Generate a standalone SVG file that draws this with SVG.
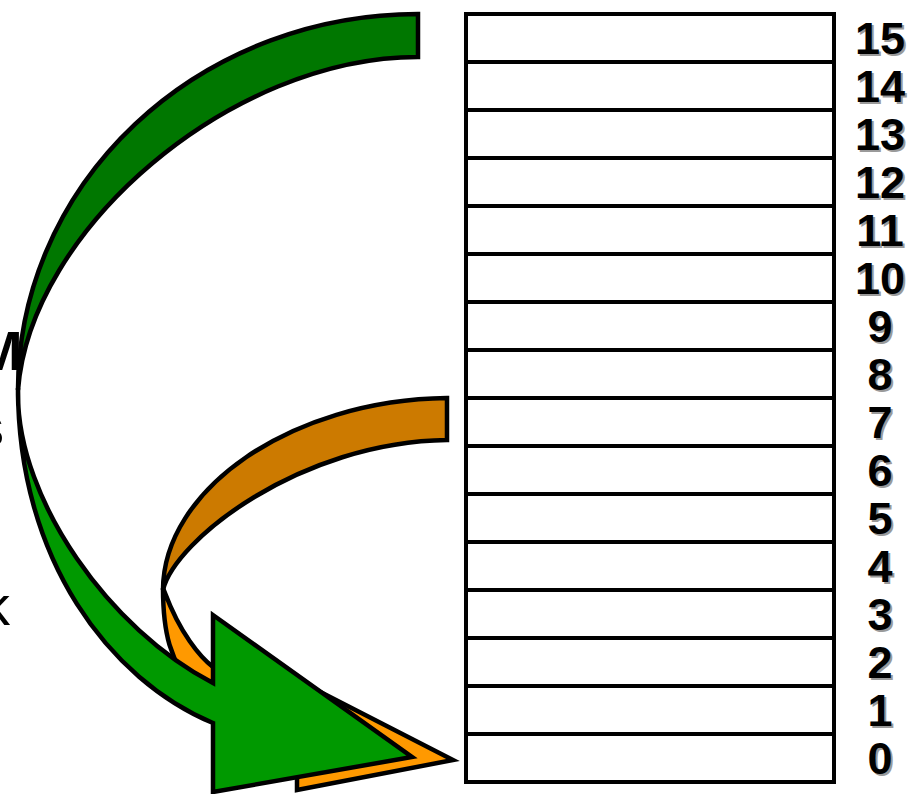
<svg xmlns="http://www.w3.org/2000/svg" width="910" height="794" viewBox="0 0 910 794">
<style>
.cell{fill:#fff;stroke:#000;stroke-width:4}
.lbl{font-family:"Liberation Sans",Arial,sans-serif;font-weight:bold;font-size:45px;text-anchor:middle}
.sh{fill:#9a9a9a}
.tx{fill:#000}
.cut{font-family:"Liberation Sans",Arial,sans-serif;font-size:56px;fill:#000}
.ol{stroke:#000;stroke-width:4.5;stroke-linejoin:miter}
</style>
<rect width="910" height="794" fill="#fff"/>
<g id="cut-text">
<text class="cut" x="-24" y="370" font-weight="bold">M</text>
<text class="cut" x="-24" y="446">s</text>
<text class="cut" x="-18" y="625">k</text>
</g>
<g id="stack">
<rect class="cell" x="466" y="14" width="368" height="48"/>
<rect class="cell" x="466" y="62" width="368" height="48"/>
<rect class="cell" x="466" y="110" width="368" height="48"/>
<rect class="cell" x="466" y="158" width="368" height="48"/>
<rect class="cell" x="466" y="206" width="368" height="48"/>
<rect class="cell" x="466" y="254" width="368" height="48"/>
<rect class="cell" x="466" y="302" width="368" height="48"/>
<rect class="cell" x="466" y="350" width="368" height="48"/>
<rect class="cell" x="466" y="398" width="368" height="48"/>
<rect class="cell" x="466" y="446" width="368" height="48"/>
<rect class="cell" x="466" y="494" width="368" height="48"/>
<rect class="cell" x="466" y="542" width="368" height="48"/>
<rect class="cell" x="466" y="590" width="368" height="48"/>
<rect class="cell" x="466" y="638" width="368" height="48"/>
<rect class="cell" x="466" y="686" width="368" height="48"/>
<rect class="cell" x="466" y="734" width="368" height="48"/>
</g>
<g id="labels" class="lbl">
<g class="sh" transform="translate(2,2)">
<text x="880" y="54">15</text><text x="880" y="102">14</text><text x="880" y="150">13</text><text x="880" y="198">12</text>
<text x="880" y="246">11</text><text x="880" y="294">10</text><text x="880" y="342">9</text><text x="880" y="390">8</text>
<text x="880" y="438">7</text><text x="880" y="486">6</text><text x="880" y="534">5</text><text x="880" y="582">4</text>
<text x="880" y="630">3</text><text x="880" y="678">2</text><text x="880" y="726">1</text><text x="880" y="774">0</text>
</g>
<g class="tx">
<text x="880" y="54">15</text><text x="880" y="102">14</text><text x="880" y="150">13</text><text x="880" y="198">12</text>
<text x="880" y="246">11</text><text x="880" y="294">10</text><text x="880" y="342">9</text><text x="880" y="390">8</text>
<text x="880" y="438">7</text><text x="880" y="486">6</text><text x="880" y="534">5</text><text x="880" y="582">4</text>
<text x="880" y="630">3</text><text x="880" y="678">2</text><text x="880" y="726">1</text><text x="880" y="774">0</text>
</g>
</g>
<g id="connectors">
<g id="orange-arrow">
<path class="ol" fill="#CC7A00" d="M447,398 C290,400 163,490 163,590 C175,540 300,442 447,440 Z"/>
<path class="ol" fill="#FF9900" d="M163,588 C163,630 168,660 200,700 L240,720 L297,740 L297,790 L453,760 L297,680 L240,680 L213,667 C200,657 180,633 165,593 Z"/>
</g>
<g id="green-arrow">
<path class="ol" fill="#007700" d="M418,14 A400,376 0 0 0 18,390 C30,230 230,57 418,57 Z"/>
<path class="ol" fill="#009900" d="M18,388 C18,560 110,680 213,723 L213,792 L412,757 L213,615 L213,683 C110,630 18,500 18,395 Z"/>
</g>
</g>
</svg>
